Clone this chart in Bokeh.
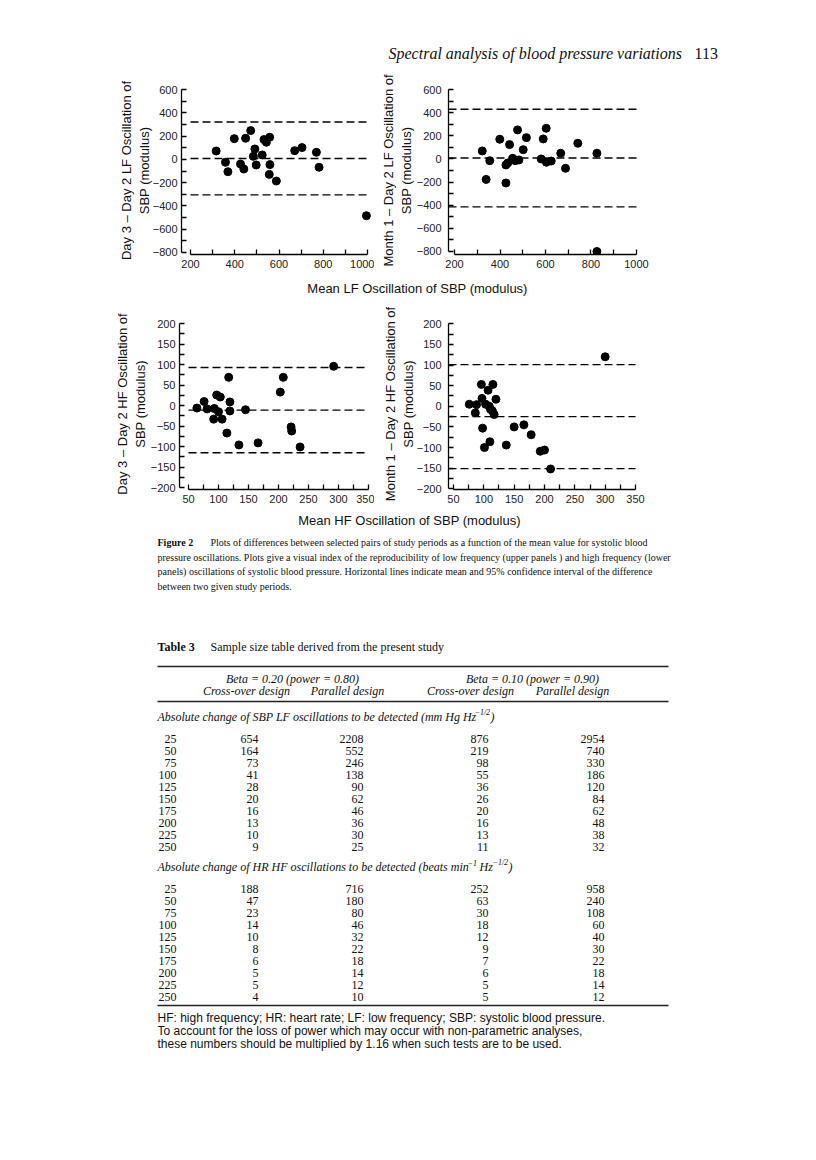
from bokeh.plotting import figure
from bokeh.layouts import column, row
from bokeh.models import Range1d, FixedTicker
from bokeh.core.properties import value
from bokeh.embed import file_html
from bokeh.resources import INLINE

SANS = "Liberation Sans"
SERIF = "Liberation Serif"

# ---------------- Figure 2 data ----------------
# LF: Day 3 - Day 2
lf_a_mean = [316, 358, 369, 398, 426, 441, 449, 472, 491, 484, 497, 524, 532, 543, 558, 559, 556, 588, 671, 704, 769, 781, 995]
lf_a_diff = [72, -25, -106, 178, -40, -83, 181, 247, 89, 26, -48, 38, 170, 147, 190, -45, -129, -186, 75, 101, 61, -68, -484]
lf_a_lines = [321, 8, -305]
# LF: Month 1 - Day 2
lf_b_mean = [322, 339, 355, 399, 442, 426, 434, 426, 456, 467, 477, 483, 502, 516, 581, 590, 603, 604, 625, 667, 688, 742, 826, 826]
lf_b_diff = [69, -177, -15, 170, 124, -52, -35, -208, 5, -15, 251, -9, 80, 184, 0, 173, 265, -29, -18, 49, -81, 135, 49, -800]
lf_b_lines = [430, 8, -414]
# HF: Day 3 - Day 2
hf_a_mean = [64, 76, 81, 93, 92, 97, 103, 100, 106, 117, 119, 119, 114, 134, 145, 166, 203, 208, 221, 222, 236, 292]
hf_a_diff = [-6, 10, -8, -7, -33, 26, 21, -15, -33, 69, 9, -13, -67, -96, -10, -91, 33, 69, -52, -62, -101, 96]
hf_a_lines = [93, -11, -115]
# HF: Month 1 - Day 2
hf_b_mean = [76, 86, 88, 96, 97, 98, 101, 103, 107, 109, 111, 110, 115, 114, 117, 120, 137, 150, 166, 178, 193, 200, 210, 300]
hf_b_diff = [5, -16, 4, 53, 19, -53, -100, 5, 39, 0, -7, -86, 53, -11, -20, 17, -94, -50, -45, -69, -109, -106, -152, 120]
hf_b_lines = [101, -25, -151]

lf_xticks = [200, 400, 600, 800, 1000]
lf_xminor = [300, 500, 700, 900]
lf_yticks = [-800, -600, -400, -200, 0, 200, 400, 600]
lf_yminor = [-700, -500, -300, -100, 100, 300, 500]
hf_xticks = [50, 100, 150, 200, 250, 300, 350]
hf_xminor = [75, 125, 175, 225, 275, 325]
hf_yticks = [-200, -150, -100, -50, 0, 50, 100, 150, 200]
hf_yminor = [-175, -125, -75, -25, 25, 75, 125, 175]

# ---------------- Table 3 data ----------------
change = [25, 50, 75, 100, 125, 150, 175, 200, 225, 250]
lf_cross_80 = [654, 164, 73, 41, 28, 20, 16, 13, 10, 9]
lf_par_80 = [2208, 552, 246, 138, 90, 62, 46, 36, 30, 25]
lf_cross_90 = [876, 219, 98, 55, 36, 26, 20, 16, 13, 11]
lf_par_90 = [2954, 740, 330, 186, 120, 84, 62, 48, 38, 32]
hf_cross_80 = [188, 47, 23, 14, 10, 8, 6, 5, 5, 4]
hf_par_80 = [716, 180, 80, 46, 32, 22, 18, 14, 12, 10]
hf_cross_90 = [252, 63, 30, 18, 12, 9, 7, 6, 5, 5]
hf_par_90 = [958, 240, 108, 60, 40, 30, 22, 18, 14, 12]


def panel(xv, yv, lines, line_x0, xr, yr, xb, yb, xt, xm, yt, ym, ylab,
          width, height, ml, mr, mt, mb, tick_standoff, label_standoff):
    p = figure(width=width, height=height, x_range=Range1d(*xr), y_range=Range1d(*yr),
               output_backend="svg", toolbar_location=None,
               min_border_left=ml, min_border_right=mr, min_border_top=mt, min_border_bottom=mb)
    p.grid.visible = False
    p.outline_line_color = None
    x0 = xb[0] if line_x0 is None else line_x0
    for v in lines:
        p.line(x=[x0, xb[1]], y=[v, v], line_color="black", line_width=1.4, line_dash="8 4")
    p.scatter(x=xv, y=yv, size=8, fill_color="black", line_color="black")
    p.xaxis.bounds = xb
    p.yaxis.bounds = yb
    p.xaxis.ticker = FixedTicker(ticks=xt, minor_ticks=xm)
    p.yaxis.ticker = FixedTicker(ticks=yt, minor_ticks=ym)
    for ax in (p.xaxis[0], p.yaxis[0]):
        ax.major_tick_in = 5
        ax.major_tick_out = 0
        ax.minor_tick_in = 5
        ax.minor_tick_out = 0
        ax.axis_line_width = 1.3
        ax.major_tick_line_width = 1.3
        ax.minor_tick_line_width = 1.3
        ax.axis_line_color = "black"
        ax.major_tick_line_color = "black"
        ax.minor_tick_line_color = "black"
        ax.major_label_text_font = SANS
        ax.major_label_text_font_size = "11px"
        ax.major_label_text_color = "#222222"
    p.xaxis.major_label_standoff = 5
    p.yaxis.major_label_standoff = tick_standoff
    p.yaxis.axis_label = ylab
    p.yaxis.axis_label_text_font = SANS
    p.yaxis.axis_label_text_font_size = "13px"
    p.yaxis.axis_label_text_font_style = "normal"
    p.yaxis.axis_label_text_color = "#111111"
    p.yaxis.axis_label_standoff = label_standoff
    return p


def canvas(h, y0):
    f = figure(width=808, height=h, x_range=Range1d(0, 808), y_range=Range1d(y0 + h, y0),
               output_backend="svg", toolbar_location=None, x_axis_type=None, y_axis_type=None,
               min_border=0)
    f.grid.visible = False
    f.outline_line_color = None
    return f


def txt(f, x, y, s, size, font=SERIF, style="normal", align="left", color="#111111"):
    f.text(x=[x], y=[y], text=[s], text_font=value(font), text_font_size=size,
           text_font_style=style, text_align=align, text_baseline="middle", text_color=color)


# ---------------- header ----------------
f0 = canvas(64, 0)
txt(f0, 388, 53, "Spectral analysis of blood pressure variations", "16px", style="italic")
txt(f0, 694, 53, "113", "16px")

# ---------------- LF panels ----------------
p1 = panel(lf_a_mean, lf_a_diff, lf_a_lines, None, (159.3, 1022.6), (-817.2, 625.8), (200, 1000), (-800, 600),
           lf_xticks, lf_xminor, lf_yticks, lf_yminor,
           "Day 3 \u2013 Day 2 LF Oscillation of\nSBP (modulus)", 374, 214, 181, 2, 22, 24, 4, -2)
p2 = panel(lf_b_mean, lf_b_diff, lf_b_lines, 173.6, (173.6, 1017.6), (-826, 626), (200, 1000), (-800, 600),
           lf_xticks, lf_xminor, lf_yticks, lf_yminor,
           "Month 1 \u2013 Day 2 LF Oscillation of\nSBP (modulus)", 434, 214, 74, 168, 22, 24, 7, 0)

f1 = canvas(22, 278)
txt(f1, 417, 288, "Mean LF Oscillation of SBP (modulus)", "13px", font=SANS, align="center")

# ---------------- HF panels ----------------
p3 = panel(hf_a_mean, hf_a_diff, hf_a_lines, None, (35, 356.7), (-204.8, 212.7), (50, 350), (-200, 200),
           hf_xticks, hf_xminor, hf_yticks, hf_yminor,
           "Day 3 \u2013 Day 2 HF Oscillation of\nSBP (modulus)", 374, 210, 179, 2, 18, 18, 4, 0)
p4 = panel(hf_b_mean, hf_b_diff, hf_b_lines, 41.8, (41.8, 358.2), (-201.7, 212.8), (50, 350), (-200, 200),
           hf_xticks, hf_xminor, hf_yticks, hf_yminor,
           "Month 1 \u2013 Day 2 HF Oscillation of\nSBP (modulus)", 434, 210, 74, 168, 18, 21, 7, -2)

f2 = canvas(20, 510)
txt(f2, 409, 520, "Mean HF Oscillation of SBP (modulus)", "13px", font=SANS, align="center")

# ---------------- caption + table ----------------
f3 = canvas(622, 530)
CAP = "10px"
CAP_Y = 542
CAP_DY = 14.5
txt(f3, 157, CAP_Y, "Figure 2", CAP, style="bold")
txt(f3, 210, CAP_Y, "Plots of differences between selected pairs of study periods as a function of the mean value for systolic blood", CAP)
txt(f3, 157, CAP_Y + CAP_DY, "pressure oscillations. Plots give a visual index of the reproducibility of low frequency (upper panels ) and high frequency (lower", CAP)
txt(f3, 157, CAP_Y + 2 * CAP_DY, "panels) oscillations of systolic blood pressure. Horizontal lines indicate mean and 95% confidence interval of the difference", CAP)
txt(f3, 157, CAP_Y + 3 * CAP_DY, "between two given study periods.", CAP)

TB = "12px"
SUP = "8px"
txt(f3, 157, 646, "Table 3", TB, style="bold")
txt(f3, 210, 646, "Sample size table derived from the present study", TB)

RULE_X = [157, 668]
for yy in (666, 701, 1005):
    f3.line(x=RULE_X, y=[yy, yy], line_color="#222222", line_width=1.3)

txt(f3, 292, 678, "Beta = 0.20 (power = 0.80)", TB, style="italic", align="center")
txt(f3, 532, 678, "Beta = 0.10 (power = 0.90)", TB, style="italic", align="center")
for cx, s in ((246, "Cross-over design"), (347, "Parallel design"), (470, "Cross-over design"), (572, "Parallel design")):
    txt(f3, cx, 690, s, TB, style="italic", align="center")

txt(f3, 157, 716, "Absolute change of SBP LF oscillations to be detected (mm Hg Hz", TB, style="italic")
txt(f3, 474, 712, "\u22121/2", SUP, style="italic")
txt(f3, 490, 716, ")", TB, style="italic")

COL_RIGHT = [176, 258, 363, 488, 604]
ROW_H = 12


def rows(f, y0, cols):
    ys = [y0 + ROW_H * i for i in range(len(cols[0]))]
    for xr_, vals in zip(COL_RIGHT, cols):
        f.text(x=[xr_] * len(vals), y=ys, text=[str(v) for v in vals], text_font=value(SERIF),
               text_font_size=TB, text_align="right", text_baseline="middle", text_color="#111111")


rows(f3, 738, [change, lf_cross_80, lf_par_80, lf_cross_90, lf_par_90])

txt(f3, 157, 866, "Absolute change of HR HF oscillations to be detected (beats min", TB, style="italic")
txt(f3, 467, 862, "\u22121", SUP, style="italic")
txt(f3, 479, 866, "Hz", TB, style="italic")
txt(f3, 492, 862, "\u22121/2", SUP, style="italic")
txt(f3, 508, 866, ")", TB, style="italic")

rows(f3, 888, [change, hf_cross_80, hf_par_80, hf_cross_90, hf_par_90])

FN = "12px"
txt(f3, 157, 1017, "HF: high frequency; HR: heart rate; LF: low frequency; SBP: systolic blood pressure.", FN, font=SANS)
txt(f3, 157, 1030, "To account for the loss of power which may occur with non-parametric analyses,", FN, font=SANS)
txt(f3, 157, 1043, "these numbers should be multiplied by 1.16 when such tests are to be used.", FN, font=SANS)

layout = column(f0, row(p1, p2), f1, row(p3, p4), f2, f3)
open("out.html", "w").write(file_html(layout, INLINE))
